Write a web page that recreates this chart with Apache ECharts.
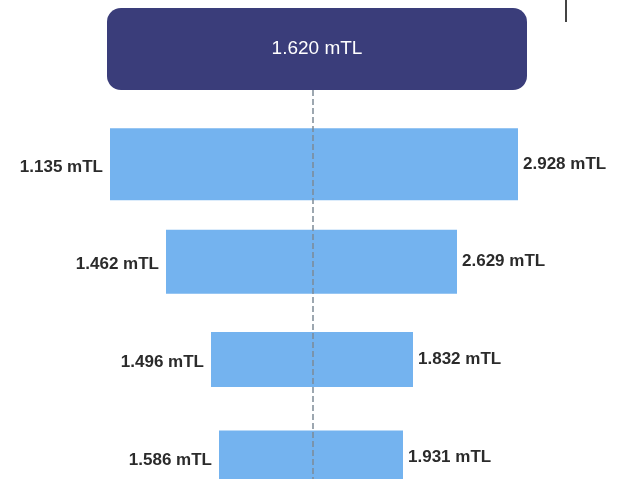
<!DOCTYPE html>
<html>
<head>
<meta charset="utf-8">
<script src="https://cdn.jsdelivr.net/npm/echarts@6/dist/echarts.min.js"></script>
<style>html,body{margin:0;padding:0;background:#fff;}#c{width:621px;height:479px;}</style>
</head>
<body>
<div id="c"></div>
<script>
// Tornado chart data
var categories = ['S1', 'S2', 'S3', 'S4'];
var baseValue = 1.620;
var lowValues = [1.135, 1.462, 1.496, 1.586];
var highValues = [2.928, 2.629, 1.832, 1.931];
// plotted swing around the base (relative units, as drawn in the picture)
var barLow = [-101.5, -73.5, -51, -47];
var barHigh = [102.5, 72, 50, 45];
var baseBox = [-103, 107];

var thickness = [72, 64, 55, 53];
var unit = 'mTL';
function fmt(v) { return v.toFixed(3) + ' ' + unit; }

var chart = echarts.init(document.getElementById('c'), null, { renderer: 'canvas' });
var xCommon = { type: 'value', min: -110, max: 110, show: false };
var font = 'Liberation Sans, Arial, sans-serif';

var rows = categories.map(function (c, i) { return [i, barLow[i], barHigh[i]]; });

chart.setOption({
  animation: false,
  backgroundColor: '#ffffff',
  grid: [
    { left: 93, width: 440, top: 8, height: 82 },
    { left: 93, width: 440, top: 90, bottom: 0 }
  ],
  xAxis: [
    Object.assign({ gridIndex: 0 }, xCommon),
    Object.assign({ gridIndex: 1 }, xCommon)
  ],
  yAxis: [
    { gridIndex: 0, type: 'category', data: ['base'], show: false },
    { gridIndex: 1, type: 'value', min: -0.76, max: 3.225, inverse: true, show: false }
  ],
  graphic: [
    { type: 'rect', shape: { x: 565, y: 0, width: 2, height: 22 }, style: { fill: '#444' } }
  ],
  series: [
    {
      type: 'custom', xAxisIndex: 0, yAxisIndex: 0,
      data: [[0, baseBox[0], baseBox[1]]],
      encode: { x: [1, 2], y: 0 },
      renderItem: function (params, api) {
        var p1 = api.coord([api.value(1), api.value(0)]);
        var p2 = api.coord([api.value(2), api.value(0)]);
        var h = api.size([0, 1])[1];
        return {
          type: 'group',
          children: [
            { type: 'rect', shape: { x: p1[0], y: p1[1] - h / 2, width: p2[0] - p1[0], height: h, r: 14 },
              style: { fill: '#3a3d7a' } },
            { type: 'text', style: { text: fmt(baseValue), x: (p1[0] + p2[0]) / 2, y: p1[1],
              textAlign: 'center', textVerticalAlign: 'middle', fill: '#ffffff',
              font: '19px ' + font } }
          ]
        };
      }
    },
    {
      type: 'custom', xAxisIndex: 1, yAxisIndex: 1,
      data: rows,
      encode: { x: [1, 2], y: 0 },
      renderItem: function (params, api) {
        var i = params.dataIndex;
        var p1 = api.coord([api.value(1), api.value(0)]);
        var p2 = api.coord([api.value(2), api.value(0)]);
        var h = thickness[i];
        return {
          type: 'group',
          children: [
            { type: 'rect', shape: { x: p1[0], y: p1[1] - h / 2, width: p2[0] - p1[0], height: h },
              style: { fill: '#74b3ef' } },
            { type: 'text', style: { text: fmt(lowValues[i]), x: p1[0] - 7, y: p1[1] + 3,
              textAlign: 'right', textVerticalAlign: 'middle', fill: '#2b2b2b',
              font: 'bold 17px ' + font } },
            { type: 'text', style: { text: fmt(highValues[i]), x: p2[0] + 5, y: p1[1],
              textAlign: 'left', textVerticalAlign: 'middle', fill: '#2b2b2b',
              font: 'bold 17px ' + font } }
          ]
        };
      }
    },
    {
      type: 'line', xAxisIndex: 1, yAxisIndex: 1, z: 10,
      data: [[0, -0.76], [0, 3.225]], symbol: 'none', silent: true,
      lineStyle: { color: '#7d8a96', width: 1.5, type: [6, 3] }
    }
  ]
});
</script>
</body>
</html>
